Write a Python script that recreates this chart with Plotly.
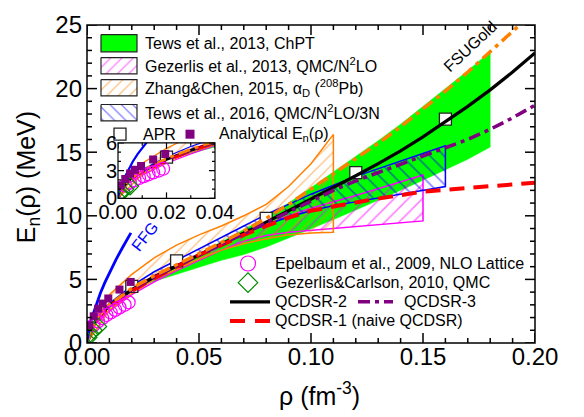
import plotly.graph_objects as go

FONT = "Liberation Sans, Arial, sans-serif"

# ---------------- data ----------------
# density grid (fm^-3) for the QCD sum-rule curves and FSUGold
rho_grid = [0.0, 0.002, 0.005, 0.01, 0.02, 0.03, 0.04, 0.05, 0.06, 0.07, 0.08, 0.09,
            0.10, 0.11, 0.12, 0.13, 0.14, 0.15, 0.16, 0.17, 0.18, 0.19, 0.20]
e_qcdsr2 = [0.0, 1.2, 2.05, 2.95, 4.2, 5.2, 6.05, 6.9, 7.8, 8.6, 9.5, 10.4,
            11.3, 12.2, 13.15, 14.1, 15.1, 16.2, 17.4, 18.6, 19.9, 21.3, 22.8]
e_qcdsr3 = [0.0, 1.2, 2.05, 2.95, 4.2, 5.2, 6.05, 6.9, 7.8, 8.6, 9.5, 10.35,
            11.2, 12.0, 12.75, 13.4, 14.0, 14.65, 15.3, 16.0, 16.8, 17.7, 18.7]
e_qcdsr1 = [0.0, 1.15, 2.0, 2.85, 4.1, 5.1, 6.0, 6.9, 7.7, 8.5, 9.2, 9.85,
            10.4, 10.75, 11.05, 11.35, 11.65, 11.9, 12.05, 12.2, 12.35, 12.5, 12.6]
e_fsugold = [0.0, 1.2, 2.1, 3.0, 4.3, 5.3, 6.15, 7.0, 7.9, 8.8, 9.8, 10.9,
             12.1, 13.3, 14.5, 15.7, 17.0, 18.4, 19.8, 21.3, 22.9, 24.5, 26.1]

# free Fermi gas
rho_ffg = [0.0, 0.0005, 0.001, 0.002, 0.004, 0.006, 0.008, 0.010, 0.013, 0.016, 0.0196]
e_ffg = [0.0, 0.75, 1.19, 1.89, 3.0, 3.93, 4.76, 5.52, 6.58, 7.55, 8.66]

# Tews et al. 2013, ChPT band
rho_tews13 = [0.01, 0.02, 0.03, 0.04, 0.05, 0.06, 0.07, 0.08, 0.09,
              0.10, 0.11, 0.12, 0.13, 0.14, 0.15, 0.16, 0.17, 0.18]
tews13_lo = [2.7, 4.2, 4.85, 5.4, 5.95, 6.5, 6.95, 7.55, 8.25,
             8.95, 9.7, 10.45, 11.2, 12.0, 12.8, 13.6, 14.45, 15.4]
tews13_hi = [3.0, 4.3, 5.3, 6.2, 7.05, 7.95, 8.9, 9.9, 11.0,
             12.2, 13.45, 14.7, 15.9, 17.2, 18.6, 20.0, 21.4, 22.9]

# Gezerlis et al. 2013, QMC/N2LO band
rho_gez13 = [0.005, 0.01, 0.02, 0.03, 0.04, 0.05, 0.06, 0.07, 0.08,
             0.09, 0.10, 0.11, 0.12, 0.13, 0.14, 0.15]
gez13_lo = [1.7, 2.5, 3.8, 4.8, 5.7, 6.5, 7.3, 8.0, 8.45,
            8.7, 8.85, 9.0, 9.15, 9.3, 9.45, 9.6]
gez13_hi = [2.0, 2.9, 4.3, 5.3, 6.2, 7.0, 7.8, 8.6, 9.3,
            10.0, 10.6, 11.1, 11.6, 12.1, 12.65, 13.2]

# Zhang & Chen 2015, alpha_D(208Pb) band
rho_zc15 = [0.0, 0.01, 0.02, 0.03, 0.04, 0.05, 0.06, 0.07, 0.08, 0.09, 0.10, 0.11]
zc15_lo = [0.0, 2.6, 3.9, 5.0, 5.8, 6.6, 7.3, 7.8, 8.2, 8.5, 8.65, 8.7]
zc15_hi = [0.0, 3.8, 5.4, 6.7, 7.7, 8.5, 9.2, 10.0, 10.9, 12.3, 14.1, 16.4]

# Tews et al. 2016, QMC/N2LO/3N band
rho_tews16 = [0.005, 0.01, 0.02, 0.03, 0.04, 0.05, 0.06, 0.07, 0.08,
              0.09, 0.10, 0.11, 0.12, 0.13, 0.14, 0.15, 0.16]
tews16_lo = [2.0, 2.85, 4.1, 5.1, 6.0, 6.9, 7.8, 8.6, 9.3,
             9.9, 10.4, 10.8, 11.1, 11.4, 11.7, 12.0, 12.3]
tews16_hi = [2.2, 3.1, 4.5, 5.6, 6.5, 7.4, 8.3, 9.2, 10.1,
             10.9, 11.7, 12.4, 13.1, 13.7, 14.3, 14.9, 15.5]

# APR points
rho_apr = [0.02, 0.04, 0.08, 0.12, 0.16]
e_apr = [4.45, 6.45, 9.8, 13.4, 17.6]

# analytical E_n(rho)
rho_anal = [0.001, 0.003, 0.005, 0.007, 0.0095, 0.0145, 0.0195]
e_anal = [1.4, 2.1, 2.7, 3.1, 3.5, 4.2, 4.8]

# Epelbaum et al. 2009, NLO lattice
rho_epel = [0.0029, 0.0049, 0.0068, 0.0087, 0.0106, 0.0126, 0.0145, 0.0168, 0.0186]
e_epel = [1.4, 1.7, 1.95, 2.2, 2.4, 2.6, 2.8, 3.0, 3.2]

# Gezerlis & Carlson 2010, QMC
rho_gc10 = [0.0007, 0.0015, 0.003, 0.005]
e_gc10 = [0.45, 0.75, 1.0, 1.3]

# axis ranges and tick steps: (min, max, major step, minor step)
MAIN_X = (0.0, 0.20, 0.05, 0.01)
MAIN_Y = (0.0, 25.0, 5.0, 1.0)
INSET_X = (0.0, 0.04, 0.02, 0.01)
INSET_Y = (0.0, 6.0, 3.0, 1.0)

# ---------------- colours ----------------
GREEN = "rgb(0,255,0)"
MAGENTA = "rgb(255,0,255)"
ORANGE = "rgb(255,128,0)"
BLUE = "rgb(0,0,255)"
PURPLE = "rgb(128,0,128)"
RED = "rgb(255,0,0)"
DGREEN = "rgb(0,140,0)"
CLEAR = "rgba(0,0,0,0)"

DASHDOT = "12px,5px,4px,5px"
LONGDASH = "15px,9px"

fig = go.Figure()


def closed(x, lo, hi):
    return list(x) + list(x)[::-1] + [x[0]], list(lo) + list(hi)[::-1] + [lo[0]]


def hatch_band(x, lo, hi, color, shape, xa, ya, size=10, width=1.5):
    px, py = closed(x, lo, hi)
    fig.add_trace(go.Scatter(
        x=px, y=py, mode="lines", fill="toself", fillcolor=CLEAR,
        fillpattern=dict(shape=shape, fgcolor=color, bgcolor=CLEAR,
                         size=size, solidity=0.16),
        line=dict(color=color, width=width), xaxis=xa, yaxis=ya,
        hoverinfo="skip", showlegend=False))


def draw_panel(xa, ya, lw=1.0):
    # ChPT band
    px, py = closed(rho_tews13, tews13_lo, tews13_hi)
    fig.add_trace(go.Scatter(x=px, y=py, mode="lines", fill="toself",
                             fillcolor=GREEN, line=dict(width=0.5, color=GREEN),
                             xaxis=xa, yaxis=ya, hoverinfo="skip", showlegend=False))
    hatch_band(rho_gez13, gez13_lo, gez13_hi, MAGENTA, "/", xa, ya, width=1.5 * lw)
    hatch_band(rho_zc15, zc15_lo, zc15_hi, ORANGE, "/", xa, ya, size=8, width=1.5 * lw)
    hatch_band(rho_tews16, tews16_lo, tews16_hi, BLUE, "\\", xa, ya, width=1.5 * lw)

    fig.add_trace(go.Scatter(x=rho_apr, y=e_apr, mode="markers",
                             marker=dict(symbol="square", size=12, color="white",
                                         line=dict(color="#222", width=1.3)),
                             xaxis=xa, yaxis=ya, showlegend=False))

    fig.add_trace(go.Scatter(x=rho_grid, y=e_qcdsr2, mode="lines",
                             line=dict(color="black", width=3.2 * lw),
                             xaxis=xa, yaxis=ya, showlegend=False))
    fig.add_trace(go.Scatter(x=rho_grid, y=e_qcdsr1, mode="lines",
                             line=dict(color=RED, width=4 * lw, dash=LONGDASH),
                             xaxis=xa, yaxis=ya, showlegend=False))
    fig.add_trace(go.Scatter(x=rho_grid, y=e_qcdsr3, mode="lines",
                             line=dict(color=PURPLE, width=3.5 * lw, dash=DASHDOT),
                             xaxis=xa, yaxis=ya, showlegend=False))
    fig.add_trace(go.Scatter(x=rho_grid, y=e_fsugold, mode="lines",
                             line=dict(color=ORANGE, width=3.5 * lw, dash=DASHDOT),
                             xaxis=xa, yaxis=ya, showlegend=False))
    fig.add_trace(go.Scatter(x=rho_ffg, y=e_ffg, mode="lines",
                             line=dict(color=BLUE, width=2.8 * lw),
                             xaxis=xa, yaxis=ya, showlegend=False))

    fig.add_trace(go.Scatter(x=rho_epel, y=e_epel, mode="markers",
                             marker=dict(symbol="circle-open", size=13, color=MAGENTA,
                                         line=dict(width=1.2)),
                             xaxis=xa, yaxis=ya, showlegend=False))
    fig.add_trace(go.Scatter(x=rho_gc10, y=e_gc10, mode="markers",
                             marker=dict(symbol="diamond-open", size=13, color=DGREEN,
                                         line=dict(width=1.2)),
                             xaxis=xa, yaxis=ya, showlegend=False))
    fig.add_trace(go.Scatter(x=rho_anal, y=e_anal, mode="markers",
                             marker=dict(symbol="square", size=8, color=PURPLE),
                             xaxis=xa, yaxis=ya, showlegend=False))


draw_panel("x", "y")
draw_panel("x2", "y2", lw=0.8)

# ---------------- legend keys (pixel-coordinate overlay on the main axes) ----------------
LX = "x3"
LY = "y3"


def key_box(x0, x1, y0, y1, fill=None, pattern=None, color="black"):
    kw = dict(x=[x0, x1, x1, x0, x0], y=[y0, y0, y1, y1, y0], mode="lines",
              fill="toself", xaxis=LX, yaxis=LY, hoverinfo="skip", showlegend=False)
    if pattern:
        kw.update(fillcolor=CLEAR,
                  fillpattern=dict(shape=pattern, fgcolor=color, bgcolor="white",
                                   size=8, solidity=0.16),
                  line=dict(color="#222", width=1.2))
    else:
        kw.update(fillcolor=fill, line=dict(color="#222", width=1.2))
    fig.add_trace(go.Scatter(**kw))


key_box(101, 137, 21, 39, fill=GREEN)
key_box(101, 137, 45, 62, pattern="/", color=MAGENTA)
key_box(101, 137, 68, 85, pattern="/", color=ORANGE)
key_box(101, 137, 94, 111, pattern="\\", color=BLUE)

fig.add_trace(go.Scatter(x=[120], y=[125], mode="markers", xaxis=LX, yaxis=LY,
                         marker=dict(symbol="square", size=12, color="white",
                                     line=dict(color="#222", width=1.3)),
                         showlegend=False))
fig.add_trace(go.Scatter(x=[190], y=[125], mode="markers", xaxis=LX, yaxis=LY,
                         marker=dict(symbol="square", size=9, color=PURPLE),
                         showlegend=False))
fig.add_trace(go.Scatter(x=[248], y=[260], mode="markers", xaxis=LX, yaxis=LY,
                         marker=dict(symbol="circle-open", size=15, color=MAGENTA,
                                     line=dict(width=1.2)), showlegend=False))
fig.add_trace(go.Scatter(x=[248], y=[280], mode="markers", xaxis=LX, yaxis=LY,
                         marker=dict(symbol="diamond-open", size=15, color=DGREEN,
                                     line=dict(width=1.2)), showlegend=False))
fig.add_trace(go.Scatter(x=[230, 270], y=[300, 300], mode="lines", xaxis=LX, yaxis=LY,
                         line=dict(color="black", width=3.2), showlegend=False))
fig.add_trace(go.Scatter(x=[358, 393], y=[300, 300], mode="lines", xaxis=LX, yaxis=LY,
                         line=dict(color=PURPLE, width=3.5, dash="12px,5px,4px,5px"),
                         showlegend=False))
fig.add_trace(go.Scatter(x=[230, 270], y=[320, 320], mode="lines", xaxis=LX, yaxis=LY,
                         line=dict(color=RED, width=4, dash="15px,10px"),
                         showlegend=False))

legend_texts = [
    (143, 30, "Tews et al., 2013, ChPT"),
    (143, 53, "Gezerlis et al., 2013, QMC/N<sup>2</sup>LO"),
    (143, 77, "Zhang&Chen, 2015, α<sub>D</sub> (<sup>208</sup>Pb)"),
    (143, 102, "Tews et al., 2016, QMC/N<sup>2</sup>LO/3N"),
    (141, 125, "APR"),
    (217, 125, "Analytical E<sub>n</sub>(ρ)"),
    (273, 260, "Epelbaum et al., 2009, NLO Lattice"),
    (273, 280, "Gezerlis&Carlson, 2010, QMC"),
    (273, 300, "QCDSR-2"),
    (402, 300, "QCDSR-3"),
    (273, 320, "QCDSR-1 (naive QCDSR)"),
]

annotations = []
for x, y, t in legend_texts:
    annotations.append(dict(x=x, y=y, xref=LX, yref=LY, text=t, showarrow=False,
                            xanchor="left", yanchor="middle",
                            font=dict(family=FONT, size=16, color="black")))

annotations += [
    dict(x=470, y=33, xref=LX, yref=LY, text="FSUGold", showarrow=False, textangle=-43,
         font=dict(family=FONT, size=16, color="black")),
    dict(x=145, y=232, xref=LX, yref=LY, text="FFG", showarrow=False, textangle=-52,
         font=dict(family=FONT, size=16, color=BLUE)),
    dict(x=0.520, y=-0.160, xref="paper", yref="paper", text="ρ (fm<sup>-3</sup>)",
         showarrow=False, xanchor="center", yanchor="middle",
         font=dict(family=FONT, size=25, color="black")),
    dict(x=-0.132, y=0.521, xref="paper", yref="paper", text="E<sub>n</sub>(ρ) (MeV)",
         showarrow=False, textangle=-90, xanchor="center", yanchor="middle",
         font=dict(family=FONT, size=25, color="black")),
]


# ---------------- frames and inward ticks ----------------
def tick_positions(spec):
    lo, hi, major, minor = spec
    n = int(round((hi - lo) / minor))
    out = []
    for i in range(n + 1):
        v = lo + i * minor
        q = v / major
        out.append((v, abs(q - round(q)) < 1e-6))
    return out


def frame_shapes(xa, ya, xspec, yspec, major_len, minor_len, lw):
    xd, yd = f"{xa} domain", f"{ya} domain"
    line = dict(color="black", width=lw)
    out = [dict(type="rect", xref=xd, yref=yd, x0=0, x1=1, y0=0, y1=1,
                line=line, fillcolor=CLEAR, layer="above")]
    for v, is_major in tick_positions(xspec):
        L = major_len if is_major else minor_len
        for anchor, sign in ((0, 1), (1, -1)):
            out.append(dict(type="line", xref=xa, yref=yd, x0=v, x1=v,
                            ysizemode="pixel", yanchor=anchor, y0=0, y1=sign * L,
                            line=line, layer="above"))
    for v, is_major in tick_positions(yspec):
        L = major_len if is_major else minor_len
        for anchor, sign in ((0, 1), (1, -1)):
            out.append(dict(type="line", xref=xd, yref=ya, y0=v, y1=v,
                            xsizemode="pixel", xanchor=anchor, x0=0, x1=sign * L,
                            line=line, layer="above"))
    return out


shapes = [dict(type="rect", xref="x2", yref="y2", x0=INSET_X[0], x1=INSET_X[1],
               y0=INSET_Y[0], y1=INSET_Y[1], fillcolor="white", line=dict(width=0),
               layer="below")]
shapes += frame_shapes("x", "y", MAIN_X, MAIN_Y, 10, 5, 1.5)
shapes += frame_shapes("x2", "y2", INSET_X, INSET_Y, 6, 3, 1.2)

axis_common = dict(showgrid=False, zeroline=False, showline=False, ticks="")

ins_x0, ins_x1 = 0.0692, 0.2857
ins_y0, ins_y1 = 0.4548, 0.6295

fig.update_layout(
    width=584, height=417,
    margin=dict(l=87, r=49, t=11, b=74),
    paper_bgcolor="white", plot_bgcolor="rgba(0,0,0,0)",
    showlegend=False,
    font=dict(family=FONT, color="black"),
    xaxis=dict(range=list(MAIN_X[:2]), dtick=MAIN_X[2], tick0=0, tickformat=".2f",
               tickfont=dict(family=FONT, size=24, color="black"), ticklabelstandoff=-3,
               domain=[0, 1], anchor="y", **axis_common),
    yaxis=dict(range=list(MAIN_Y[:2]), dtick=MAIN_Y[2], tick0=0,
               tickfont=dict(family=FONT, size=24, color="black"), ticklabelstandoff=4,
               domain=[0, 1], anchor="x", **axis_common),
    xaxis2=dict(range=list(INSET_X[:2]), dtick=INSET_X[2], tick0=0, tickformat=".2f",
                tickfont=dict(family=FONT, size=20, color="black"),
                domain=[ins_x0, ins_x1], anchor="y2", **axis_common),
    yaxis2=dict(range=list(INSET_Y[:2]), dtick=INSET_Y[2], tick0=0,
                tickfont=dict(family=FONT, size=20, color="black"),
                domain=[ins_y0, ins_y1], anchor="x2", **axis_common),
    xaxis3=dict(range=[87, 535], overlaying="x", anchor="y3", visible=False),
    yaxis3=dict(range=[343, 11], overlaying="y", anchor="x3", visible=False),
    annotations=annotations,
    shapes=shapes,
)

fig.write_html("out.html")
